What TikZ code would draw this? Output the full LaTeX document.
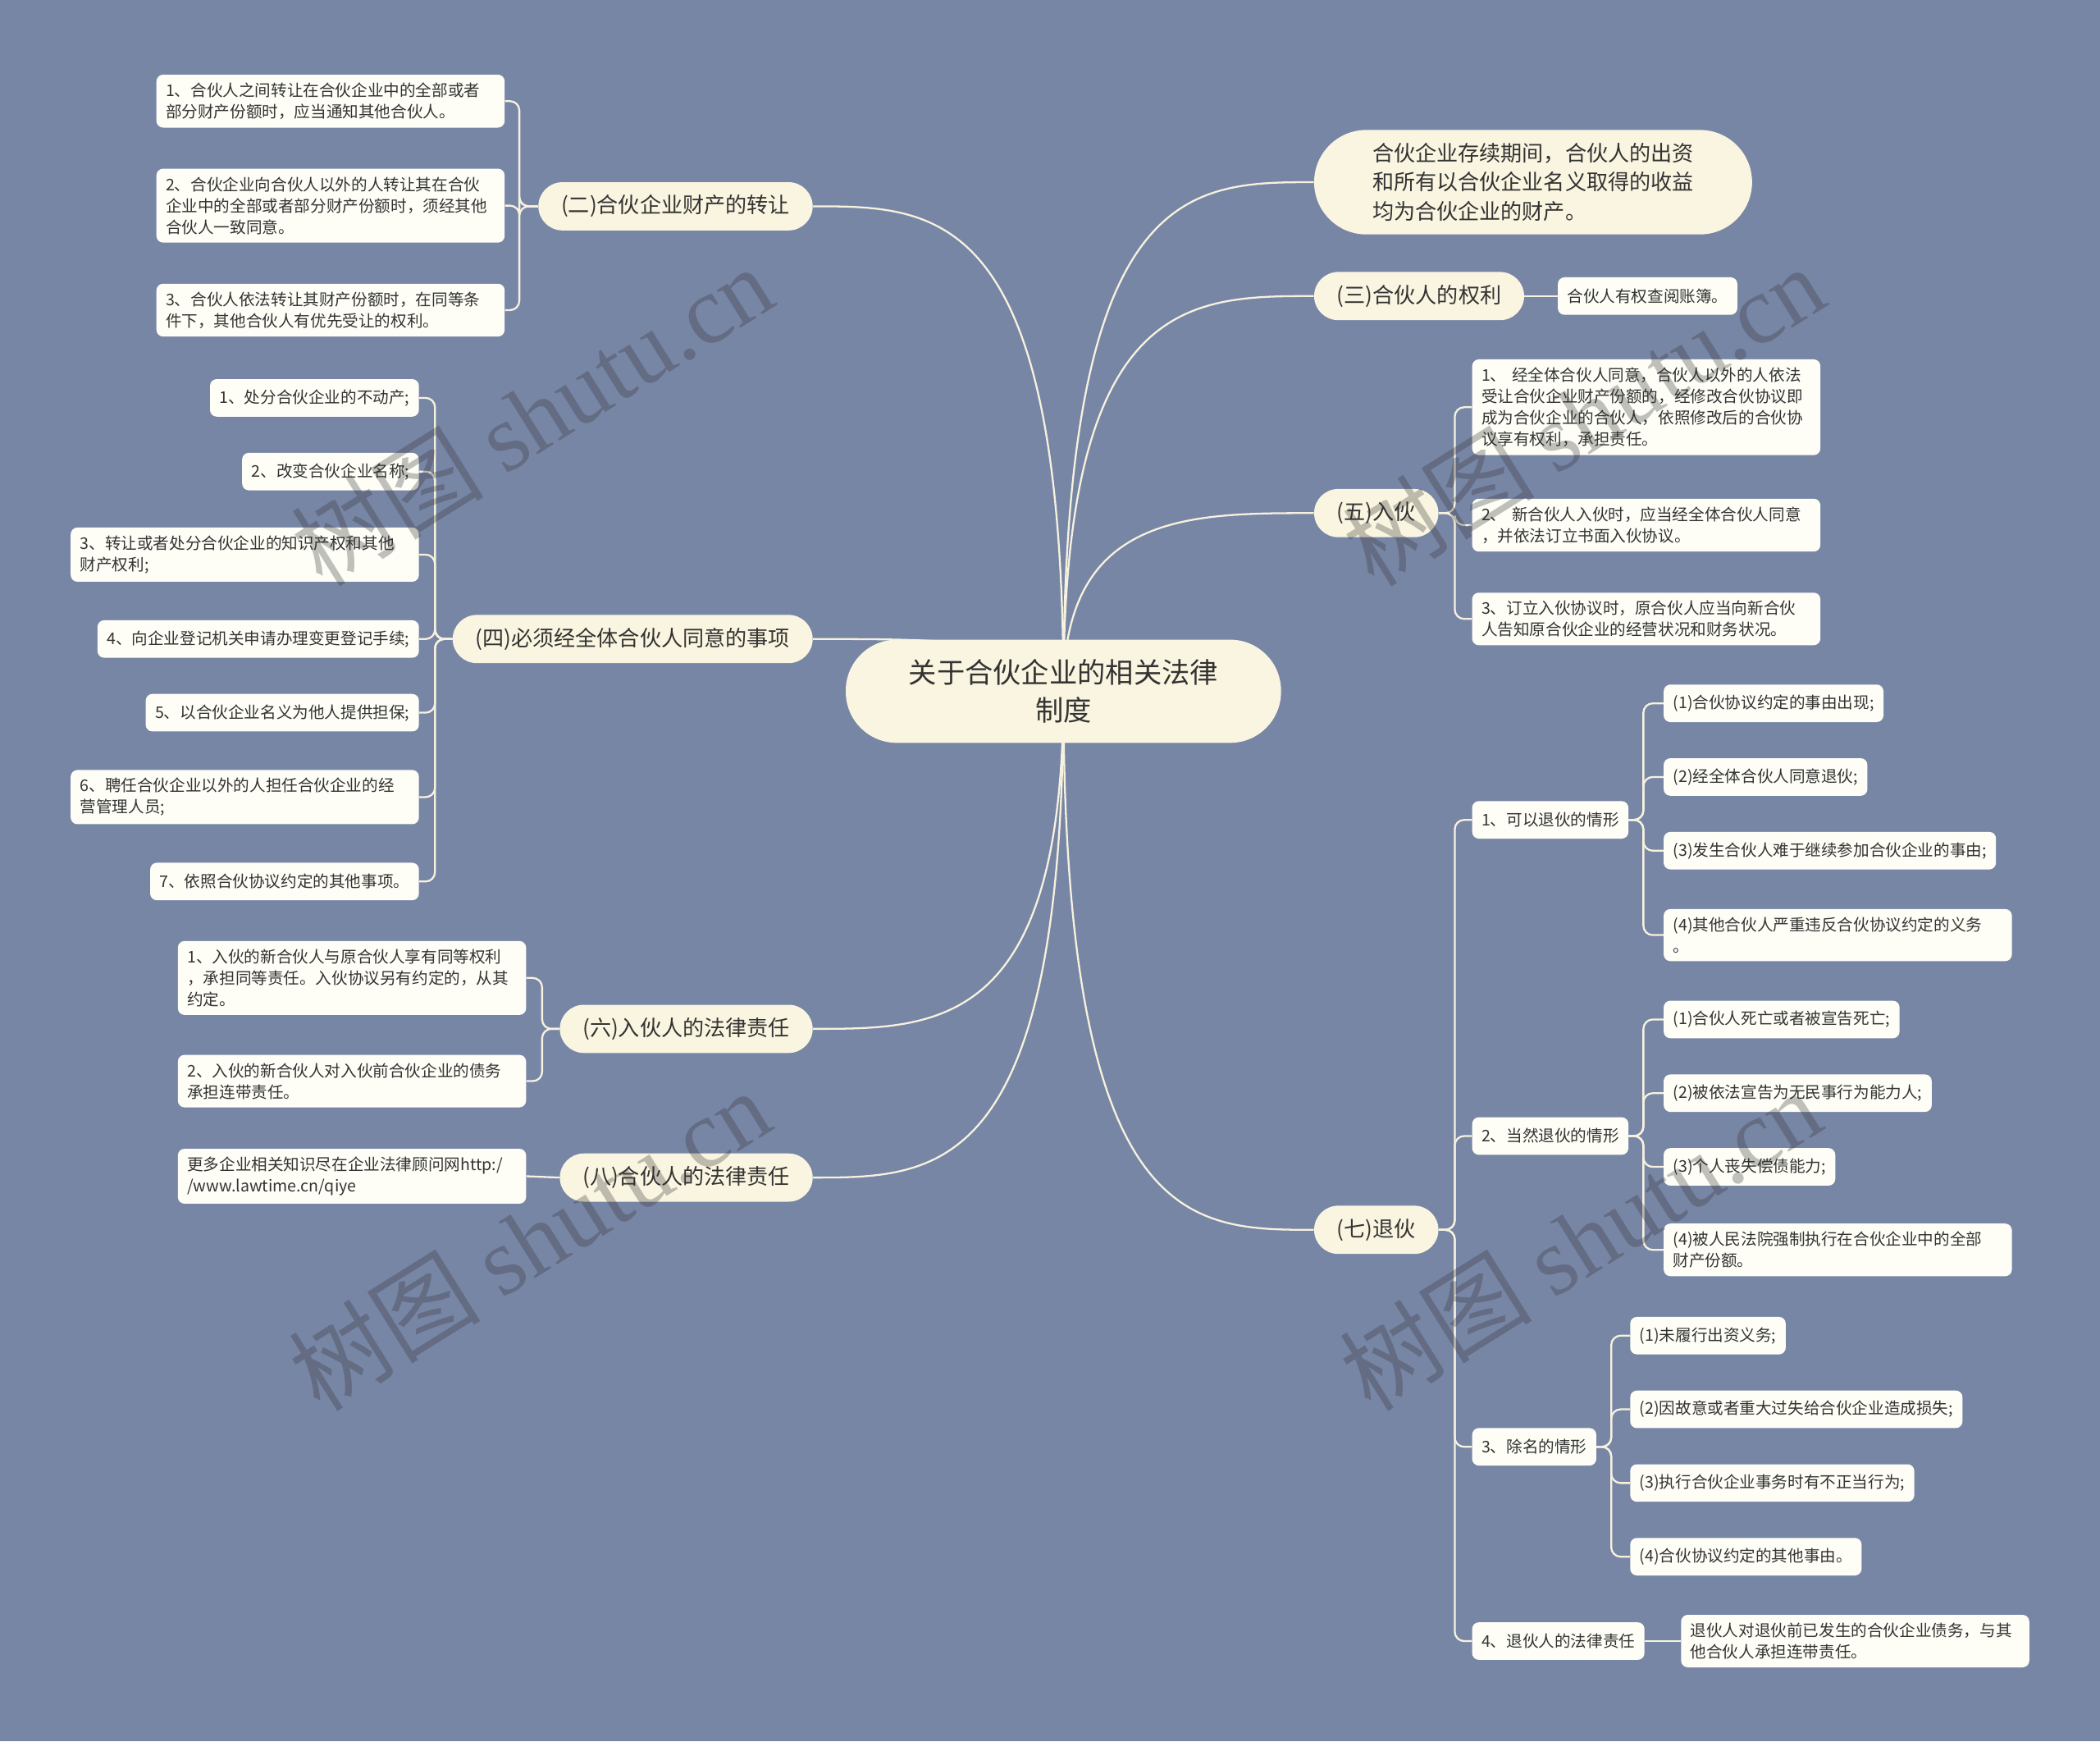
\documentclass[tikz,border=0pt]{standalone}
\usepackage{fontspec}
\setmainfont{Noto Sans CJK SC}
\newfontfamily\wmlatin{Liberation Serif}
\newfontfamily\wmcjk{Noto Sans CJK SC}
\usetikzlibrary{calc}
\definecolor{bgc}{HTML}{7886A6}
\definecolor{mainf}{HTML}{FAF5E0}
\definecolor{leaff}{HTML}{FEFEF7}
\definecolor{txt}{HTML}{333333}
\definecolor{linec}{HTML}{F6F2DE}
\pgfdeclarelayer{background}
\pgfsetlayers{background,main}
\begin{document}
\begin{tikzpicture}[x=1pt,y=-1pt,
  conn/.style={draw=linec, line width=1.4pt},
  brk/.style={conn, rounded corners=7pt},
  mainn/.style={fill=mainf, text=txt, rounded corners=18pt, inner xsep=17pt, inner ysep=0pt, minimum height=36pt, font=\fontsize{16}{20}\selectfont},
  leaf/.style={fill=leaff, text=txt, rounded corners=5pt, inner xsep=7pt, inner ysep=6pt, minimum height=28pt, font=\fontsize{12}{16}\selectfont, align=left},
  leafw/.style={leaf, text width=246pt},
  wm/.style={text=gray!40!black, opacity=0.3, font=\fontsize{72}{80}\selectfont, rotate=32}
]
\begin{pgfonlayer}{background}
\fill[bgc] (0,0) rectangle (1568,1300);
\end{pgfonlayer}
\useasboundingbox (0,0) rectangle (1568,1300);

% root
\node[fill=mainf, text=txt, rounded corners=38pt, minimum width=325pt, minimum height=77pt, align=center, font=\fontsize{21}{28}\selectfont] (root) at (794,516) {关于合伙企业的相关法律\\制度};

% main branches
\node[mainn, anchor=east] (n2) at (607,154) {(二)合伙企业财产的转让};
\node[mainn, anchor=east] (n4) at (607,477) {(四)必须经全体合伙人同意的事项};
\node[mainn, anchor=east] (n6) at (607,768) {(六)入伙人的法律责任};
\node[mainn, anchor=east] (n8) at (607,879) {(八)合伙人的法律责任};
\node[fill=mainf, text=txt, rounded corners=39pt, minimum width=327pt, minimum height=78pt, inner xsep=0pt, align=left, font=\fontsize{16}{21.5}\selectfont, anchor=west] (n1) at (981,136) {合伙企业存续期间，合伙人的出资\\和所有以合伙企业名义取得的收益\\均为合伙企业的财产。};
\node[mainn, anchor=west] (n3) at (981,221) {(三)合伙人的权利};
\node[mainn, anchor=west] (n5) at (981,383) {(五)入伙};
\node[mainn, anchor=west] (n7) at (981,918) {(七)退伙};

% (二) leaves
\node[leafw, anchor=east] (a1) at (377,75.5) {1、合伙人之间转让在合伙企业中的全部或者\\部分财产份额时，应当通知其他合伙人。};
\node[leafw, anchor=east] (a2) at (377,153.5) {2、合伙企业向合伙人以外的人转让其在合伙\\企业中的全部或者部分财产份额时，须经其他\\合伙人一致同意。};
\node[leafw, anchor=east] (a3) at (377,231.5) {3、合伙人依法转让其财产份额时，在同等条\\件下，其他合伙人有优先受让的权利。};

% (四) leaves
\node[leaf, anchor=east] (b1) at (313,297) {1、处分合伙企业的不动产;};
\node[leaf, anchor=east] (b2) at (313,352) {2、改变合伙企业名称;};
\node[leafw, anchor=east] (b3) at (313,414) {3、转让或者处分合伙企业的知识产权和其他\\财产权利;};
\node[leaf, anchor=east] (b4) at (313,477) {4、向企业登记机关申请办理变更登记手续;};
\node[leaf, anchor=east] (b5) at (313,532) {5、以合伙企业名义为他人提供担保;};
\node[leafw, anchor=east] (b6) at (313,595) {6、聘任合伙企业以外的人担任合伙企业的经\\营管理人员;};
\node[leaf, anchor=east] (b7) at (313,658) {7、依照合伙协议约定的其他事项。};

% (六) leaves
\node[leafw, anchor=east] (c1) at (393,730) {1、入伙的新合伙人与原合伙人享有同等权利\\，承担同等责任。入伙协议另有约定的，从其\\约定。};
\node[leafw, anchor=east] (c2) at (393,807) {2、入伙的新合伙人对入伙前合伙企业的债务\\承担连带责任。};

% (八) leaf
\node[leafw, anchor=east] (d1) at (393,878) {更多企业相关知识尽在企业法律顾问网http:/\\/www.lawtime.cn/qiye};

% (三) leaf
\node[leaf, anchor=west] (e1) at (1163,221) {合伙人有权查阅账簿。};

% (五) leaves
\node[leafw, anchor=west] (f1) at (1099,304) {1、 经全体合伙人同意，合伙人以外的人依法\\受让合伙企业财产份额的，经修改合伙协议即\\成为合伙企业的合伙人，依照修改后的合伙协\\议享有权利，承担责任。};
\node[leafw, anchor=west] (f2) at (1099,392) {2、 新合伙人入伙时，应当经全体合伙人同意\\，并依法订立书面入伙协议。};
\node[leafw, anchor=west] (f3) at (1099,462) {3、订立入伙协议时，原合伙人应当向新合伙\\人告知原合伙企业的经营状况和财务状况。};

% (七) sub-branches
\node[leaf, anchor=west] (g1) at (1099,612) {1、可以退伙的情形};
\node[leaf, anchor=west] (g2) at (1099,848) {2、当然退伙的情形};
\node[leaf, anchor=west] (g3) at (1099,1080) {3、除名的情形};
\node[leaf, anchor=west] (g4) at (1099,1225) {4、退伙人的法律责任};

\node[leaf, anchor=west] (h1) at (1242,525) {(1)合伙协议约定的事由出现;};
\node[leaf, anchor=west] (h2) at (1242,580) {(2)经全体合伙人同意退伙;};
\node[leaf, anchor=west] (h3) at (1242,635) {(3)发生合伙人难于继续参加合伙企业的事由;};
\node[leafw, anchor=west] (h4) at (1242,698) {(4)其他合伙人严重违反合伙协议约定的义务\\。};

\node[leaf, anchor=west] (i1) at (1242,761) {(1)合伙人死亡或者被宣告死亡;};
\node[leaf, anchor=west] (i2) at (1242,816) {(2)被依法宣告为无民事行为能力人;};
\node[leaf, anchor=west] (i3) at (1242,871) {(3)个人丧失偿债能力;};
\node[leafw, anchor=west] (i4) at (1242,933) {(4)被人民法院强制执行在合伙企业中的全部\\财产份额。};

\node[leaf, anchor=west] (j1) at (1217,997) {(1)未履行出资义务;};
\node[leaf, anchor=west] (j2) at (1217,1052) {(2)因故意或者重大过失给合伙企业造成损失;};
\node[leaf, anchor=west] (j3) at (1217,1107) {(3)执行合伙企业事务时有不正当行为;};
\node[leaf, anchor=west] (j4) at (1217,1162) {(4)合伙协议约定的其他事由。};

\node[leafw, anchor=west] (k1) at (1255,1225) {退伙人对退伙前已发生的合伙企业债务，与其\\他合伙人承担连带责任。};

% connectors
\begin{pgfonlayer}{background}
\foreach \n in {n2,n4,n6,n8} {
  \draw[conn] (root.center) .. controls (root.center |- \n.east) and ($(root.center |- \n.east)!0.5!(\n.east)$) .. (\n.east);
}
\foreach \n in {n1,n3,n5,n7} {
  \draw[conn] (root.center) .. controls (root.center |- \n.west) and ($(root.center |- \n.west)!0.5!(\n.west)$) .. (\n.west);
}
\foreach \c in {a1,a2,a3} \draw[brk] (n2.west) -- ++(-14,0) |- (\c.east);
\foreach \c in {b1,b2,b3,b4,b5,b6,b7} \draw[brk] (n4.west) -- ++(-13,0) |- (\c.east);
\foreach \c in {c1,c2} \draw[brk] (n6.west) -- ++(-13,0) |- (\c.east);
\draw[conn] (n8.west) -- (d1.east);
\draw[conn] (n3.east) -- (e1.west);
\foreach \c in {f1,f2,f3} \draw[brk] (n5.east) -- ++(12,0) |- (\c.west);
\foreach \c in {g1,g2,g3,g4} \draw[brk] (n7.east) -- ++(12,0) |- (\c.west);
\foreach \c in {h1,h2,h3,h4} \draw[brk] (g1.east) -- ++(11,0) |- (\c.west);
\foreach \c in {i1,i2,i3,i4} \draw[brk] (g2.east) -- ++(11,0) |- (\c.west);
\foreach \c in {j1,j2,j3,j4} \draw[brk] (g3.east) -- ++(11,0) |- (\c.west);
\draw[conn] (g4.east) -- (k1.west);
\end{pgfonlayer}

% watermarks
\node[wm] (w1) at (397,310) {{\wmcjk 树图} {\wmlatin shutu.cn}};
\node[wm] (w2) at (1182,310) {{\wmcjk 树图} {\wmlatin shutu.cn}};
\node[wm] (w3) at (395,925) {{\wmcjk 树图} {\wmlatin shutu.cn}};
\node[wm] (w4) at (1180,925) {{\wmcjk 树图} {\wmlatin shutu.cn}};
\end{tikzpicture}
\end{document}
